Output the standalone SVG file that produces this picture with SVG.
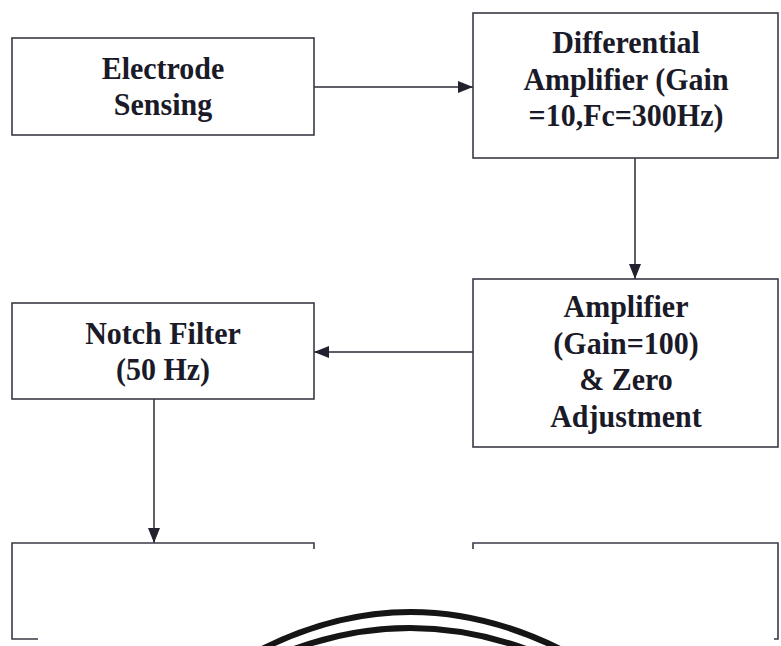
<svg xmlns="http://www.w3.org/2000/svg" width="781" height="646" viewBox="0 0 781 646">
<style>
.box{fill:#fff;stroke:#3a3a48;stroke-width:1.6}
.edge{fill:none;stroke:#3a3a48;stroke-width:1.6}
.conn{fill:none;stroke:#2a2a36;stroke-width:1.5}
.lbl{font-family:'Liberation Serif','Times New Roman',serif;font-weight:700;font-size:30px;fill:#1a1a28;text-anchor:middle}
.arc{fill:none;stroke:#151515;stroke-width:6}
</style>
<defs>
<marker id="ah" markerUnits="userSpaceOnUse" markerWidth="16" markerHeight="12" refX="15" refY="6" orient="auto">
<path d="M0,0 L15,6 L0,12 z" fill="#22222e"/>
</marker>
</defs>
<rect width="781" height="646" fill="#fff"/>
<g id="connectors">
<line class="conn" x1="314" y1="87" x2="473" y2="87" marker-end="url(#ah)"/>
<line class="conn" x1="635" y1="158" x2="635" y2="279" marker-end="url(#ah)"/>
<line class="conn" x1="473" y1="352" x2="314" y2="352" marker-end="url(#ah)"/>
<line class="conn" x1="154" y1="399" x2="154" y2="543" marker-end="url(#ah)"/>
</g>
<g id="electrode">
<rect class="box" x="12" y="38" width="302" height="97"/>
<text class="lbl" transform="translate(163,79) scale(1,1.07)">Electrode</text>
<text class="lbl" transform="translate(163,115) scale(1,1.07)">Sensing</text>
</g>
<g id="diffamp">
<rect class="box" x="473" y="13" width="305" height="145"/>
<text class="lbl" transform="translate(626,53) scale(1,1.07)">Differential</text>
<text class="lbl" transform="translate(626,90) scale(1,1.07)">Amplifier (Gain</text>
<text class="lbl" transform="translate(626,126) scale(1,1.07)">=10,Fc=300Hz)</text>
</g>
<g id="amplifier">
<rect class="box" x="473" y="279" width="305" height="168"/>
<text class="lbl" transform="translate(626,317) scale(1,1.07)">Amplifier</text>
<text class="lbl" transform="translate(626,354) scale(1,1.07)">(Gain=100)</text>
<text class="lbl" transform="translate(626,390) scale(1,1.07)">&amp; Zero</text>
<text class="lbl" transform="translate(626,427) scale(1,1.07)">Adjustment</text>
</g>
<g id="notch">
<rect class="box" x="12" y="303" width="302" height="96"/>
<text class="lbl" transform="translate(163,344) scale(1,1.07)">Notch Filter</text>
<text class="lbl" transform="translate(163,380) scale(1,1.07)">(50 Hz)</text>
</g>
<g id="bottom-left">
<path class="edge" d="M314 549 V543 H12 V639 H38"/>
</g>
<g id="bottom-right">
<path class="edge" d="M473 549 V543 H778 V639 H774"/>
</g>
<g id="arcs">
<path class="arc" d="M262 649 Q410 575 560 649"/>
<path class="arc" d="M294 649 Q410 607 526 649"/>
</g>
</svg>
